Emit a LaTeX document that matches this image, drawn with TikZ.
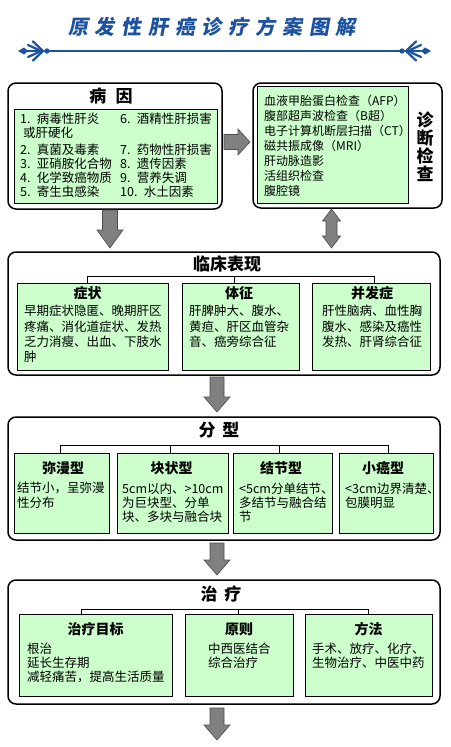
\documentclass[tikz,border=0pt]{standalone}
\usepackage{fontspec}
\setmainfont{Noto Sans CJK SC}
\newfontfamily\titlefont[FakeSlant=0.18,LetterSpace=34]{Noto Sans CJK SC}
\definecolor{tblue}{RGB}{28,82,158}
\definecolor{lgreen}{RGB}{204,255,204}
\definecolor{agray}{RGB}{128,128,128}
\newcommand\DownBlk[6]{%
  \draw[blk] (#1-#2,#4) -- (#1+#2,#4) -- (#1+#2,#5) -- (#1+#3,#5) -- (#1,#6)
    -- (#1-#3,#5) -- (#1-#2,#5) -- cycle;}
\begin{document}
\begin{tikzpicture}[x=1pt,y=-1pt,
  outer/.style={draw=black,line width=1.5pt,rounded corners=8pt,fill=white,anchor=north west,inner sep=0pt,outer sep=0pt},
  gbox/.style={draw=black,line width=0.8pt,fill=lgreen,anchor=north west,inner sep=0pt,outer sep=0pt},
  txt/.style={anchor=west,inner sep=0pt,font=\fontsize{12.5}{15}\selectfont},
  dtxt/.style={anchor=west,inner sep=0pt,font=\fontsize{12}{15}\selectfont},
  hd/.style={inner sep=0pt,font=\fontsize{14}{16}\selectfont\bfseries},
  bighd/.style={inner sep=0pt,font=\fontsize{17}{20}\selectfont\bfseries},
  blk/.style={fill=agray,draw=black!70,line width=0.6pt},
  brk/.style={draw=black,line width=0.8pt},
  leaf/.style={draw=tblue,line width=2.2pt,line cap=round}]
\useasboundingbox (0,0) rectangle (450,747);
\fill[white] (0,0) rectangle (450,747);

% ---- title and ornament ----
\node[inner sep=0pt,text=tblue,font=\titlefont\fontsize{20}{22}\selectfont\bfseries] (title) at (212,27) {原发性肝癌诊疗方案图解};
\draw[tblue,line width=1.3pt] (47,51) -- (402,51);
\fill[tblue] (47,51) circle (2.7) (402,51) circle (2.7);
\draw[leaf] (44,51) -- (23,51);
\draw[leaf] (42,50) -- (33,41.5);
\draw[leaf] (42,52) -- (33,60.5);
\draw[leaf] (39,50) -- (28,45);
\draw[leaf] (39,52) -- (28,57);
\fill[tblue] (18,51) -- (24,47.5) -- (28,51) -- (24,54.5) -- cycle;
\draw[leaf] (405,51) -- (426,51);
\draw[leaf] (407,50) -- (416,41.5);
\draw[leaf] (407,52) -- (416,60.5);
\draw[leaf] (410,50) -- (421,45);
\draw[leaf] (410,52) -- (421,57);
\fill[tblue] (431,51) -- (425,47.5) -- (421,51) -- (425,54.5) -- cycle;

% ---- 病因 ----
\node[outer,minimum width=214,minimum height=126] (cause) at (8,83) {};
\node[gbox,minimum width=203,minimum height=94] (causeg) at (14,109) {};
\node[bighd] (causeh) at (111,96) {病\hspace{0.55em}因};
\foreach \t/\yy [count=\i] in {1.\enspace 病毒性肝炎/119,2.\enspace 真菌及毒素/149.5,3.\enspace 亚硝胺化合物/163.5,4.\enspace 化学致癌物质/177.5,5.\enspace 寄生虫感染/191.5}
  \node[txt] (ca\i) at (20,\yy) {\t};
\node[txt] (ca1b) at (23,133) {或肝硬化};
\foreach \t/\yy [count=\i] in {6.\enspace 酒精性肝损害/119,7.\enspace 药物性肝损害/149.5,8.\enspace 遗传因素/163.5,9.\enspace 营养失调/177.5,10.\enspace 水土因素/191.5}
  \node[txt] (cb\i) at (120,\yy) {\t};

% ---- 诊断检查 ----
\node[outer,minimum width=189,minimum height=125] (diag) at (253,83) {};
\node[gbox,minimum width=151,minimum height=117] (diagg) at (257,86) {};
\node[inner sep=0pt,align=center,font=\fontsize{17}{18}\selectfont\bfseries] (diagh) at (425,147) {诊\\断\\检\\查};
\foreach \t [count=\i] in {血液甲胎蛋白检查（AFP）,腹部超声波检查（B超）,电子计算机断层扫描（CT）,磁共振成像（MRI）,肝动脉造影,活组织检查,腹腔镜}
  \node[dtxt] (d\i) at (264,{101+15*(\i-1)}) {\t};

% ---- 临床表现 ----
\node[outer,minimum width=432,minimum height=123] (clin) at (8,252) {};
\node[bighd] (clinh) at (227,264) {临床表现};
\node[gbox,minimum width=151,minimum height=87] (sym) at (17,283) {};
\node[gbox,minimum width=117,minimum height=87] (sig) at (182,283) {};
\node[gbox,minimum width=118,minimum height=87] (cmp) at (312,283) {};
\draw[brk] (87,283) -- (87,276) -- (374,276) -- (374,283);
\draw[brk] (234,276) -- (234,283);
\node[hd] (symh) at (87.5,293) {症状};
\node[hd] (sigh) at (239,293) {体征};
\node[hd] (cmph) at (372,293) {并发症};
\foreach \t [count=\i] in {早期症状隐匿、晚期肝区,疼痛、消化道症状、发热,乏力消瘦、出血、下肢水,肿}
  \node[txt] (s\i) at (24,{311+15.3*(\i-1)}) {\t};
\foreach \t [count=\i] in {肝脾肿大、腹水、,黄疸、肝区血管杂,音、癌旁综合征}
  \node[txt] (g\i) at (189,{311+15.3*(\i-1)}) {\t};
\foreach \t [count=\i] in {肝性脑病、血性胸,腹水、感染及癌性,发热、肝肾综合征}
  \node[txt] (m\i) at (322,{311+15.3*(\i-1)}) {\t};

% ---- 分型 ----
\node[outer,minimum width=432,minimum height=123] (typ) at (8,417) {};
\node[bighd] (typh) at (219,430) {分\hspace{0.4em}型};
\node[gbox,minimum width=95,minimum height=80] (ta) at (14,453) {};
\node[gbox,minimum width=111,minimum height=80] (tb) at (117,453) {};
\node[gbox,minimum width=99,minimum height=80] (tc) at (233,453) {};
\node[gbox,minimum width=94,minimum height=80] (td) at (339,453) {};
\draw[brk] (60,453) -- (60,445) -- (388,445) -- (388,453);
\draw[brk] (170,445) -- (170,453);
\draw[brk] (279,445) -- (279,453);
\node[hd] (tah) at (63,468) {弥漫型};
\node[hd] (tbh) at (171.5,468) {块状型};
\node[hd] (tch) at (281,468) {结节型};
\node[hd] (tdh) at (383,468) {小癌型};
\foreach \t [count=\i] in {结节小，呈弥漫,性分布}
  \node[txt] (ta\i) at (17,{488.3+14.2*(\i-1)}) {\t};
\foreach \t [count=\i] in {5cm以内、>10cm,为巨块型、分单,块、多块与融合块}
  \node[txt] (tb\i) at (122,{488.3+14.2*(\i-1)}) {\t};
\foreach \t [count=\i] in {<5cm分单结节、,多结节与融合结,节}
  \node[txt] (tc\i) at (239,{488.3+14.2*(\i-1)}) {\t};
\foreach \t [count=\i] in {<3cm边界清楚、,包膜明显}
  \node[txt] (td\i) at (345,{488.3+14.2*(\i-1)}) {\t};

% ---- 治疗 ----
\node[outer,minimum width=432,minimum height=124] (trt) at (8,580) {};
\node[bighd] (trth) at (221,594) {治\hspace{0.4em}疗};
\node[gbox,minimum width=153,minimum height=82] (ra) at (19,614) {};
\node[gbox,minimum width=108,minimum height=82] (rb) at (185,614) {};
\node[gbox,minimum width=127,minimum height=82] (rc) at (305,614) {};
\draw[brk] (81,614) -- (81,609) -- (368,609) -- (368,614);
\draw[brk] (238,609) -- (238,614);
\node[hd] (rah) at (95.5,629) {治疗目标};
\node[hd] (rbh) at (239,629) {原则};
\node[hd] (rch) at (368.5,629) {方法};
\foreach \t [count=\i] in {根治,延长生存期,减轻痛苦，提高生活质量}
  \node[txt] (ra\i) at (27,{648.3+14.2*(\i-1)}) {\t};
\foreach \t [count=\i] in {中西医结合,综合治疗}
  \node[txt] (rb\i) at (208,{648.3+14.2*(\i-1)}) {\t};
\foreach \t [count=\i] in {手术、放疗、化疗、,生物治疗、中医中药}
  \node[txt] (rc\i) at (312,{648.3+14.2*(\i-1)}) {\t};

% ---- block arrows ----
\draw[blk] (224,134.5) -- (238,134.5) -- (238,129) -- (250,142) -- (238,155) -- (238,149.5) -- (224,149.5) -- cycle;
\draw[blk] (331.5,209) -- (340.5,221) -- (337,221) -- (337,236) -- (340.5,236) -- (331.5,248)
  -- (322.5,236) -- (326,236) -- (326,221) -- (322.5,221) -- cycle;
\DownBlk{110}{7.5}{13}{210}{230}{248}
\DownBlk{217}{7}{13}{377}{397}{412}
\DownBlk{217}{7}{13}{543}{560}{575}
\DownBlk{217}{7}{13}{708}{725}{740}
\end{tikzpicture}
\end{document}
